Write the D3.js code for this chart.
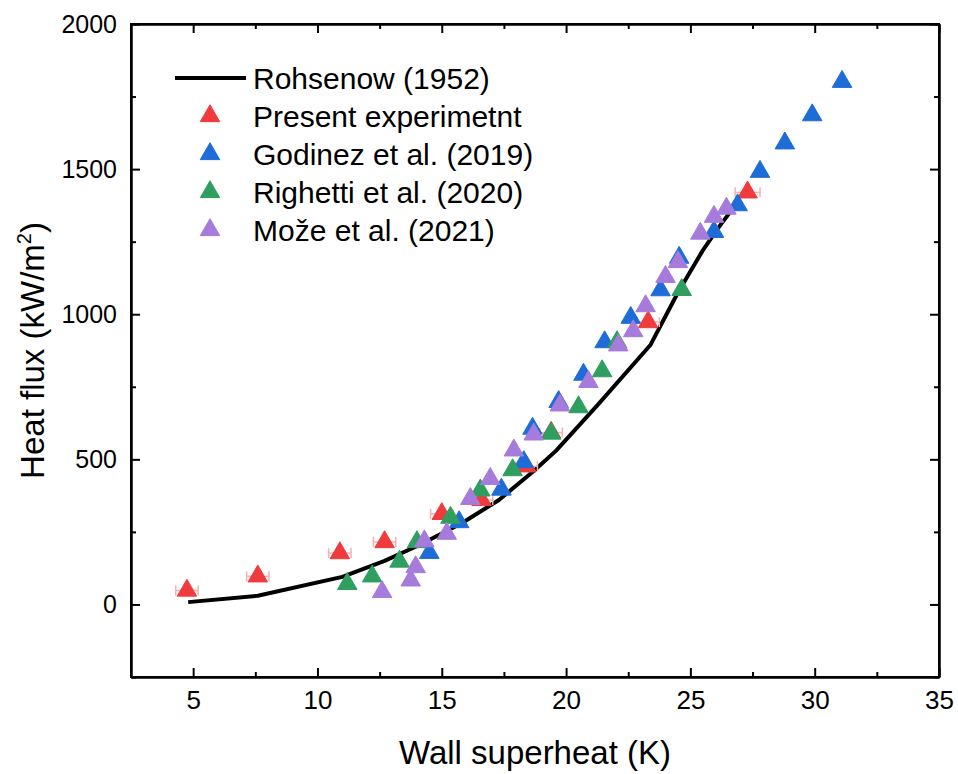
<!DOCTYPE html>
<html>
<head>
<meta charset="utf-8">
<script src="https://cdn.jsdelivr.net/npm/d3@7"></script>
<style>
  body { margin: 0; background: #fff; }
  svg { display: block; font-family: "Liberation Sans", Arial, sans-serif; }
</style>
</head>
<body>
<div class="container"></div>
<script>
// Rohsenow (1952) correlation line
const rohX = [4.8, 7.6, 11.0, 12.7, 14.1, 15.8, 17.3, 18.7, 19.6, 21.3, 23.4, 24.5, 25.5, 26.1, 26.8];
const rohY = [8, 30, 95, 150, 205, 280, 360, 460, 530, 690, 895, 1075, 1220, 1295, 1375];

// Present experiment (with horizontal error bars)
const presentX = [4.75, 7.6, 10.9, 12.7, 15.0, 16.6, 18.4, 19.4, 23.3, 27.3];
const presentY = [48, 97, 177, 215, 312, 360, 476, 592, 973, 1420];
const presentErr = [0.45, 0.45, 0.45, 0.45, 0.45, 0.45, 0.45, 0.45, 0.45, 0.5];

// Godinez et al. (2019)
const godinezX = [14.5, 15.7, 17.4, 18.3, 18.65, 19.7, 20.7, 21.55, 22.6, 23.8, 24.55, 25.95, 26.9, 27.8, 28.8, 29.9, 31.1];
const godinezY = [178, 284, 396, 491, 606, 698, 792, 904, 988, 1083, 1195, 1284, 1376, 1491, 1589, 1686, 1801];

// Righetti et al. (2020)
const righettiX = [11.2, 12.2, 13.3, 14.0, 15.35, 16.55, 17.85, 19.4, 20.5, 21.45, 22.05, 24.65];
const righettiY = [71, 97, 148, 215, 299, 393, 463, 589, 680, 804, 904, 1084];

// Može et al. (2021)
const mozeX = [12.6, 13.75, 13.95, 14.3, 15.2, 16.15, 16.95, 17.9, 18.7, 19.75, 20.9, 22.1, 22.7, 23.2, 24.0, 24.5, 25.4, 25.95, 26.45];
const mozeY = [43, 83, 129, 218, 244, 364, 433, 531, 586, 686, 767, 893, 942, 1028, 1129, 1180, 1278, 1336, 1364];

const xTicks = [5, 10, 15, 20, 25, 30, 35];
const xMinor = [7.5, 12.5, 17.5, 22.5, 27.5, 32.5];
const yTicks = [0, 500, 1000, 1500, 2000];
const yMinor = [-250, 250, 750, 1250, 1750];

const series = [
  { name: "Present experimetnt", xs: presentX, ys: presentY, color: "#ef3b3d" },
  { name: "Godinez et al. (2019)", xs: godinezX, ys: godinezY, color: "#1e6cd8" },
  { name: "Righetti et al. (2020)", xs: righettiX, ys: righettiY, color: "#2e9f5f" },
  { name: "Može et al. (2021)", xs: mozeX, ys: mozeY, color: "#a67bdc" },
];

const width = 958;
const height = 774;
const margin = { top: 24, right: 19, bottom: 97, left: 131 };
const innerW = width - margin.left - margin.right;
const innerH = height - margin.top - margin.bottom;

const x = d3.scaleLinear().domain([2.5, 35]).range([0, innerW]);
const y = d3.scaleLinear().domain([-250, 2000]).range([innerH, 0]);

const svg = d3.select(".container")
  .append("svg")
  .attr("width", width)
  .attr("height", height);

svg.append("rect").attr("width", width).attr("height", height).attr("fill", "#fff");

const g = svg.append("g")
  .attr("transform", `translate(${margin.left},${margin.top})`);

// clip so nothing leaks outside the frame
g.append("clipPath").attr("id", "clip")
  .append("rect").attr("width", innerW).attr("height", innerH);

const plot = g.append("g").attr("clip-path", "url(#clip)");

// Rohsenow line
const rohData = rohX.map((d, i) => [d, rohY[i]]);
plot.append("path")
  .datum(rohData)
  .attr("fill", "none")
  .attr("stroke", "#000")
  .attr("stroke-width", 4)
  .attr("stroke-linejoin", "round")
  .attr("d", d3.line().x((d) => x(d[0])).y((d) => y(d[1])));

// error bars for present experiment
const errData = presentX.map((d, i) => ({ x: d, y: presentY[i], e: presentErr[i] }));
const err = plot.append("g")
  .attr("stroke", "#f5b0b0")
  .attr("stroke-width", 1.5)
  .selectAll("g")
  .data(errData)
  .join("g");
err.append("line")
  .attr("x1", (d) => x(d.x - d.e)).attr("x2", (d) => x(d.x + d.e))
  .attr("y1", (d) => y(d.y)).attr("y2", (d) => y(d.y));
err.append("line")
  .attr("x1", (d) => x(d.x - d.e)).attr("x2", (d) => x(d.x - d.e))
  .attr("y1", (d) => y(d.y) - 5).attr("y2", (d) => y(d.y) + 5);
err.append("line")
  .attr("x1", (d) => x(d.x + d.e)).attr("x2", (d) => x(d.x + d.e))
  .attr("y1", (d) => y(d.y) - 5).attr("y2", (d) => y(d.y) + 5);

// triangles
const tri = d3.symbol(d3.symbolTriangle, 165);
series.forEach((s) => {
  plot.append("g")
    .selectAll("path")
    .data(s.xs.map((d, i) => [d, s.ys[i]]))
    .join("path")
    .attr("d", tri)
    .attr("fill", s.color)
    .attr("stroke", s.color)
    .attr("stroke-width", 1)
    .attr("transform", (d) => `translate(${x(d[0])},${y(d[1])})`);
});

// axes, ticks inward on all four sides
function styleAxis(sel) {
  sel.select(".domain").attr("stroke", "#000").attr("stroke-width", 2);
  sel.selectAll(".tick line").attr("stroke", "#000").attr("stroke-width", 2);
  sel.selectAll("text").attr("fill", "#000");
}

g.append("g")
  .attr("transform", `translate(0,${innerH})`)
  .call(d3.axisBottom(x).tickValues(xTicks).tickFormat(d3.format("d")).tickSize(-9).tickPadding(14).tickSizeOuter(0))
  .call(styleAxis)
  .call((a) => a.selectAll("text").attr("font-size", 26).attr("font-family", "Liberation Sans, Arial, sans-serif"));
g.append("g")
  .attr("transform", `translate(0,${innerH})`)
  .call(d3.axisBottom(x).tickValues(xMinor).tickSize(-5).tickFormat("").tickSizeOuter(0))
  .call(styleAxis);

g.append("g")
  .call(d3.axisTop(x).tickValues(xTicks).tickSize(-9).tickFormat("").tickSizeOuter(0))
  .call(styleAxis);
g.append("g")
  .call(d3.axisTop(x).tickValues(xMinor).tickSize(-5).tickFormat("").tickSizeOuter(0))
  .call(styleAxis);

g.append("g")
  .call(d3.axisLeft(y).tickValues(yTicks).tickFormat(d3.format("d")).tickSize(-9).tickPadding(14).tickSizeOuter(0))
  .call(styleAxis)
  .call((a) => a.selectAll("text").attr("font-size", 25).attr("font-family", "Liberation Sans, Arial, sans-serif"));
g.append("g")
  .call(d3.axisLeft(y).tickValues(yMinor).tickSize(-5).tickFormat("").tickSizeOuter(0))
  .call(styleAxis);

g.append("g")
  .attr("transform", `translate(${innerW},0)`)
  .call(d3.axisRight(y).tickValues(yTicks).tickSize(-9).tickFormat("").tickSizeOuter(0))
  .call(styleAxis);
g.append("g")
  .attr("transform", `translate(${innerW},0)`)
  .call(d3.axisRight(y).tickValues(yMinor).tickSize(-5).tickFormat("").tickSizeOuter(0))
  .call(styleAxis);

// frame
g.append("rect")
  .attr("width", innerW).attr("height", innerH)
  .attr("fill", "none").attr("stroke", "#000").attr("stroke-width", 2);

// axis titles
svg.append("text")
  .attr("x", margin.left + innerW / 2)
  .attr("y", 764)
  .attr("text-anchor", "middle")
  .attr("font-size", 33)
  .text("Wall superheat (K)");

const yt = svg.append("text")
  .attr("transform", `translate(44,${margin.top + innerH / 2}) rotate(-90)`)
  .attr("text-anchor", "middle")
  .attr("font-size", 33);
yt.append("tspan").text("Heat flux (kW/m");
yt.append("tspan").attr("font-size", 20).attr("dy", -13).text("2");
yt.append("tspan").attr("dy", 13).text(")");

// legend
const legend = svg.append("g");
const rowY = (i) => 78 + i * 38;
legend.append("line")
  .attr("x1", 175).attr("x2", 246)
  .attr("y1", rowY(0)).attr("y2", rowY(0))
  .attr("stroke", "#000").attr("stroke-width", 4);
legend.append("text")
  .attr("x", 253).attr("y", rowY(0) + 11)
  .attr("font-size", 30)
  .text("Rohsenow (1952)");
series.forEach((s, i) => {
  legend.append("path")
    .attr("d", tri)
    .attr("fill", s.color)
    .attr("stroke", s.color)
    .attr("transform", `translate(210,${rowY(i + 1)})`);
  legend.append("text")
    .attr("x", 253).attr("y", rowY(i + 1) + 11)
    .attr("font-size", 30)
    .text(s.name);
});
</script>
</body>
</html>
